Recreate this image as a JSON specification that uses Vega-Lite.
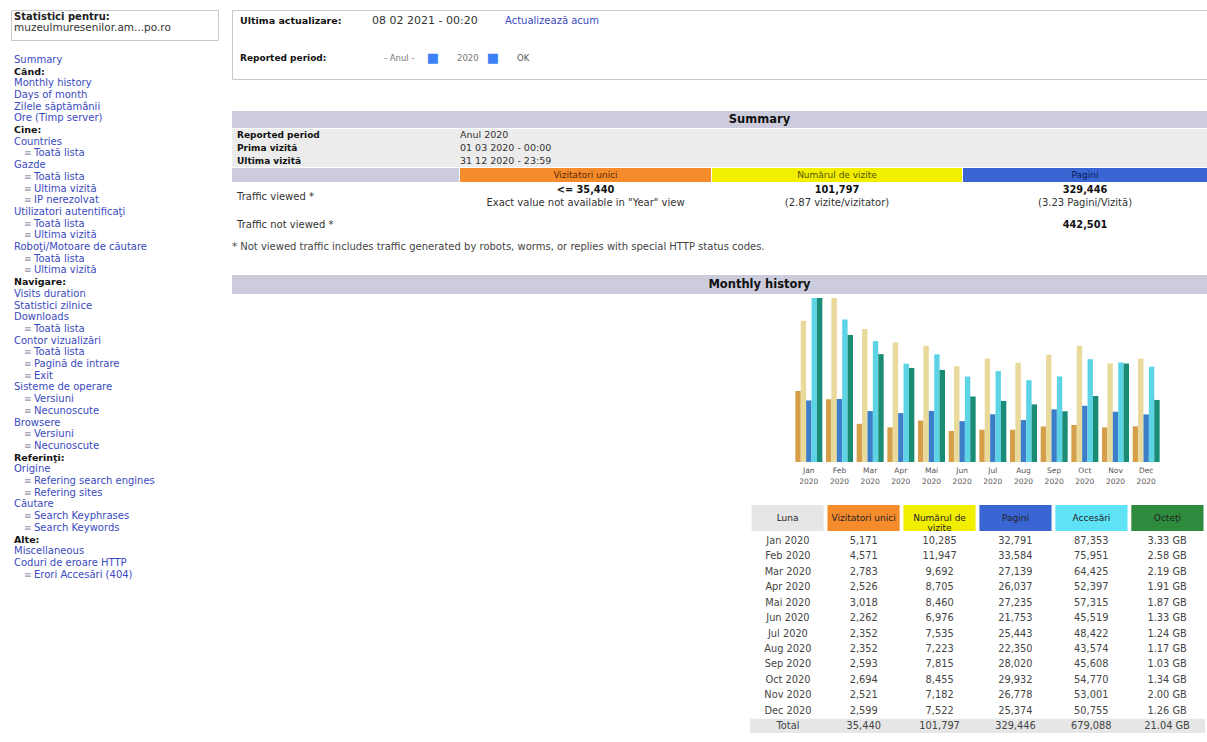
{
  "$schema": "https://vega.github.io/schema/vega-lite/v6.json",
  "background": "white",
  "padding": {"left": 10, "top": 9, "right": 0, "bottom": 0},
  "config": {
    "view": {"stroke": null},
    "font": "DejaVu Sans",
    "text": {"font": "DejaVu Sans", "fontSize": 9, "fill": "#222"}
  },
  "datasets": {
    "months": [
      {"luna": "Jan 2020", "vu": 5171, "vis": 10285, "pag": 32791, "acc": 87353, "gb": 3.33, "oct": "3.33 GB"},
      {"luna": "Feb 2020", "vu": 4571, "vis": 11947, "pag": 33584, "acc": 75951, "gb": 2.58, "oct": "2.58 GB"},
      {"luna": "Mar 2020", "vu": 2783, "vis": 9692, "pag": 27139, "acc": 64425, "gb": 2.19, "oct": "2.19 GB"},
      {"luna": "Apr 2020", "vu": 2526, "vis": 8705, "pag": 26037, "acc": 52397, "gb": 1.91, "oct": "1.91 GB"},
      {"luna": "Mai 2020", "vu": 3018, "vis": 8460, "pag": 27235, "acc": 57315, "gb": 1.87, "oct": "1.87 GB"},
      {"luna": "Jun 2020", "vu": 2262, "vis": 6976, "pag": 21753, "acc": 45519, "gb": 1.33, "oct": "1.33 GB"},
      {"luna": "Jul 2020", "vu": 2352, "vis": 7535, "pag": 25443, "acc": 48422, "gb": 1.24, "oct": "1.24 GB"},
      {"luna": "Aug 2020", "vu": 2352, "vis": 7223, "pag": 22350, "acc": 43574, "gb": 1.17, "oct": "1.17 GB"},
      {"luna": "Sep 2020", "vu": 2593, "vis": 7815, "pag": 28020, "acc": 45608, "gb": 1.03, "oct": "1.03 GB"},
      {"luna": "Oct 2020", "vu": 2694, "vis": 8455, "pag": 29932, "acc": 54770, "gb": 1.34, "oct": "1.34 GB"},
      {"luna": "Nov 2020", "vu": 2521, "vis": 7182, "pag": 26778, "acc": 53001, "gb": 2.00, "oct": "2.00 GB"},
      {"luna": "Dec 2020", "vu": 2599, "vis": 7522, "pag": 25374, "acc": 50755, "gb": 1.26, "oct": "1.26 GB"},
      {"luna": "Total", "vu": 35440, "vis": 101797, "pag": 329446, "acc": 679088, "gb": 21.04, "oct": "21.04 GB"}
    ],
    "sidebar": [
      {"i": 0, "t": "Summary", "k": "l"},
      {"i": 1, "t": "Când:", "k": "h"},
      {"i": 2, "t": "Monthly history", "k": "l"},
      {"i": 3, "t": "Days of month", "k": "l"},
      {"i": 4, "t": "Zilele săptămânii", "k": "l"},
      {"i": 5, "t": "Ore (Timp server)", "k": "l"},
      {"i": 6, "t": "Cine:", "k": "h"},
      {"i": 7, "t": "Countries", "k": "l"},
      {"i": 8, "t": "Toată lista", "k": "s"},
      {"i": 9, "t": "Gazde", "k": "l"},
      {"i": 10, "t": "Toată lista", "k": "s"},
      {"i": 11, "t": "Ultima vizită", "k": "s"},
      {"i": 12, "t": "IP nerezolvat", "k": "s"},
      {"i": 13, "t": "Utilizatori autentificaţi", "k": "l"},
      {"i": 14, "t": "Toată lista", "k": "s"},
      {"i": 15, "t": "Ultima vizită", "k": "s"},
      {"i": 16, "t": "Roboţi/Motoare de căutare", "k": "l"},
      {"i": 17, "t": "Toată lista", "k": "s"},
      {"i": 18, "t": "Ultima vizită", "k": "s"},
      {"i": 19, "t": "Navigare:", "k": "h"},
      {"i": 20, "t": "Visits duration", "k": "l"},
      {"i": 21, "t": "Statistici zilnice", "k": "l"},
      {"i": 22, "t": "Downloads", "k": "l"},
      {"i": 23, "t": "Toată lista", "k": "s"},
      {"i": 24, "t": "Contor vizualizări", "k": "l"},
      {"i": 25, "t": "Toată lista", "k": "s"},
      {"i": 26, "t": "Pagină de intrare", "k": "s"},
      {"i": 27, "t": "Exit", "k": "s"},
      {"i": 28, "t": "Sisteme de operare", "k": "l"},
      {"i": 29, "t": "Versiuni", "k": "s"},
      {"i": 30, "t": "Necunoscute", "k": "s"},
      {"i": 31, "t": "Browsere", "k": "l"},
      {"i": 32, "t": "Versiuni", "k": "s"},
      {"i": 33, "t": "Necunoscute", "k": "s"},
      {"i": 34, "t": "Referinţi:", "k": "h"},
      {"i": 35, "t": "Origine", "k": "l"},
      {"i": 36, "t": "Refering search engines", "k": "s"},
      {"i": 37, "t": "Refering sites", "k": "s"},
      {"i": 38, "t": "Căutare", "k": "l"},
      {"i": 39, "t": "Search Keyphrases", "k": "s"},
      {"i": 40, "t": "Search Keywords", "k": "s"},
      {"i": 41, "t": "Alte:", "k": "h"},
      {"i": 42, "t": "Miscellaneous", "k": "l"},
      {"i": 43, "t": "Coduri de eroare HTTP", "k": "l"},
      {"i": 44, "t": "Erori Accesări (404)", "k": "s"}
    ]
  },
  "spacing": 12,
  "hconcat": [
    {
      "spacing": 13,
      "vconcat": [
        {
          "width": 207, "height": 30,
          "view": {"stroke": "#C8C8C8"},
          "data": {"values": [{"i": 0, "t": "Statistici pentru:"}, {"i": 1, "t": "muzeulmuresenilor.am...po.ro"}]},
          "encoding": {
            "x": {"datum": 0, "type": "quantitative", "scale": {"domain": [0, 1]}, "axis": null},
            "y": {"field": "i", "type": "ordinal", "scale": {"domain": [0, 1, 2], "paddingInner": 0, "paddingOuter": 0}, "axis": null},
            "text": {"field": "t"}
          },
          "layer": [
            {"transform": [{"filter": "datum.i == 0"}], "mark": {"type": "text", "align": "left", "dx": 3, "dy": 2, "fontWeight": "bold", "fontSize": 10}},
            {"transform": [{"filter": "datum.i == 1"}], "mark": {"type": "text", "align": "left", "dx": 3, "dy": 3, "fontSize": 10.5, "fill": "#333"}}
          ]
        },
        {
          "width": 207, "height": 526.5,
          "data": {"name": "sidebar"},
          "encoding": {
            "x": {"datum": 0, "type": "quantitative", "scale": {"domain": [0, 1]}, "axis": null},
            "y": {"field": "i", "type": "ordinal", "scale": {"paddingInner": 0, "paddingOuter": 0}, "axis": null}
          },
          "layer": [
            {"transform": [{"filter": "datum.k == 'h'"}], "mark": {"type": "text", "align": "left", "dx": 3, "fontWeight": "bold", "fontSize": 9.5, "fill": "#111"}, "encoding": {"text": {"field": "t"}}},
            {"transform": [{"filter": "datum.k == 'l'"}], "mark": {"type": "text", "align": "left", "dx": 3, "fontSize": 10, "fill": "#3A4AC0"}, "encoding": {"text": {"field": "t"}}},
            {"transform": [{"filter": "datum.k == 's'"}], "mark": {"type": "text", "align": "left", "dx": 13, "fill": "#9A9AB0", "fontSize": 9}, "encoding": {"text": {"value": "≡"}}},
            {"transform": [{"filter": "datum.k == 's'"}], "mark": {"type": "text", "align": "left", "dx": 23, "fontSize": 10, "fill": "#3A4AC0"}, "encoding": {"text": {"field": "t"}}}
          ]
        }
      ]
    },
    {
      "spacing": 31,
      "vconcat": [
        {
          "width": 975, "height": 69,
          "view": {"stroke": "#C8C8C8"},
          "encoding": {
            "x": {"datum": 0, "type": "quantitative", "scale": {"domain": [0, 1]}, "axis": null},
            "y": {"field": "r", "type": "nominal", "scale": {"type": "point", "domain": ["r1", "r2"], "padding": 0.34}, "axis": null},
            "text": {"field": "t"}
          },
          "layer": [
            {"data": {"values": [{"r": "r1", "t": "Ultima actualizare:"}]}, "mark": {"type": "text", "align": "left", "dx": 8, "dy": -3, "fontWeight": "bold", "fontSize": 9.5, "fill": "#111"}},
            {"data": {"values": [{"r": "r2", "t": "Reported period:"}]}, "mark": {"type": "text", "align": "left", "dx": 8, "dy": -7, "fontWeight": "bold", "fontSize": 9, "fill": "#111"}},
            {"data": {"values": [{"r": "r1", "t": "08 02 2021 - 00:20"}]}, "mark": {"type": "text", "align": "left", "dx": 140, "dy": -3, "fontSize": 11, "fill": "#333"}},
            {"data": {"values": [{"r": "r1", "t": "Actualizează acum"}]}, "mark": {"type": "text", "align": "left", "dx": 273, "dy": -3, "fill": "#3A4AC0", "fontSize": 10}},
            {"data": {"values": [{"r": "r2", "t": "- Anul -"}]}, "mark": {"type": "text", "align": "left", "dx": 152, "dy": -7, "fill": "#777", "fontSize": 8.5}},
            {"data": {"values": [{"r": "r2", "t": "2020"}]}, "mark": {"type": "text", "align": "left", "dx": 225, "dy": -7, "fill": "#777", "fontSize": 8.5}},
            {"data": {"values": [{"r": "r2", "t": "OK"}]}, "mark": {"type": "text", "align": "left", "dx": 285, "dy": -7, "fill": "#555", "fontSize": 8.5}},
            {"data": {"values": [{"r": "r2", "t": "■"}]}, "mark": {"type": "text", "align": "center", "dx": 201, "dy": -7, "fill": "#3B82F6", "fontSize": 13}},
            {"data": {"values": [{"r": "r2", "t": "■"}]}, "mark": {"type": "text", "align": "center", "dx": 261, "dy": -7, "fill": "#3B82F6", "fontSize": 13}}
          ]
        },
        {
          "spacing": 20,
          "vconcat": [
            {
              "spacing": 1,
              "vconcat": [
                {
                  "width": 975, "height": 17,
                  "view": {"fill": "#CCCCDD"},
                  "data": {"values": [{"t": "Summary"}]},
                  "mark": {"type": "text", "fontWeight": "bold", "fontSize": 11.5, "dx": 40, "fill": "#111"},
                  "encoding": {"text": {"field": "t"}}
                },
                {
                  "width": 975, "height": 38,
                  "view": {"fill": "#ECECEC"},
                  "data": {"values": [
                    {"i": 0, "a": "Reported period", "b": "Anul 2020"},
                    {"i": 1, "a": "Prima vizită", "b": "01 03 2020 - 00:00"},
                    {"i": 2, "a": "Ultima vizită", "b": "31 12 2020 - 23:59"}
                  ]},
                  "encoding": {
                    "x": {"datum": 0, "type": "quantitative", "scale": {"domain": [0, 1]}, "axis": null},
                    "y": {"field": "i", "type": "ordinal", "scale": {"paddingInner": 0, "paddingOuter": 0}, "axis": null}
                  },
                  "layer": [
                    {"mark": {"type": "text", "align": "left", "dx": 5, "fontWeight": "bold", "fill": "#111"}, "encoding": {"text": {"field": "a"}}},
                    {"mark": {"type": "text", "align": "left", "dx": 228, "fontSize": 9.5, "fill": "#333"}, "encoding": {"text": {"field": "b"}}}
                  ]
                },
                {
                  "spacing": 1,
                  "hconcat": [
                    {"width": 227, "height": 14, "view": {"fill": "#CCCCDD"}, "data": {"values": [{"t": ""}]}, "mark": {"type": "text"}, "encoding": {"text": {"field": "t"}}},
                    {"width": 251, "height": 14, "view": {"fill": "#F68B2C"}, "data": {"values": [{"t": "Vizitatori unici"}]}, "mark": {"type": "text", "fontSize": 9, "fill": "#5A2A00"}, "encoding": {"text": {"field": "t"}}},
                    {"width": 250, "height": 14, "view": {"fill": "#F2EE00"}, "data": {"values": [{"t": "Numărul de vizite"}]}, "mark": {"type": "text", "fontSize": 9, "fill": "#555500"}, "encoding": {"text": {"field": "t"}}},
                    {"width": 244, "height": 14, "view": {"fill": "#3A66D4"}, "data": {"values": [{"t": "Pagini"}]}, "mark": {"type": "text", "fontSize": 9, "fill": "#0A1A55"}, "encoding": {"text": {"field": "t"}}}
                  ]
                },
                {
                  "spacing": 1,
                  "hconcat": [
                    {"width": 227, "height": 27, "data": {"values": [{"t": "Traffic viewed *"}]}, "mark": {"type": "text", "align": "left", "dx": 5, "fontSize": 10, "fill": "#333"}, "encoding": {"x": {"datum": 0, "type": "quantitative", "scale": {"domain": [0, 1]}, "axis": null}, "text": {"field": "t"}}},
                    {
                      "width": 251, "height": 27,
                      "data": {"values": [{"i": 0, "t": "<= 35,440"}, {"i": 1, "t": "Exact value not available in \"Year\" view"}]},
                      "encoding": {"y": {"field": "i", "type": "ordinal", "scale": {"paddingInner": 0, "paddingOuter": 0}, "axis": null}, "text": {"field": "t"}},
                      "layer": [
                        {"transform": [{"filter": "datum.i == 0"}], "mark": {"type": "text", "fontWeight": "bold", "fontSize": 9.8, "fill": "#111"}},
                        {"transform": [{"filter": "datum.i == 1"}], "mark": {"type": "text", "fontSize": 10, "fill": "#333"}}
                      ]
                    },
                    {
                      "width": 250, "height": 27,
                      "data": {"values": [{"i": 0, "t": "101,797"}, {"i": 1, "t": "(2.87 vizite/vizitator)"}]},
                      "encoding": {"y": {"field": "i", "type": "ordinal", "scale": {"paddingInner": 0, "paddingOuter": 0}, "axis": null}, "text": {"field": "t"}},
                      "layer": [
                        {"transform": [{"filter": "datum.i == 0"}], "mark": {"type": "text", "fontWeight": "bold", "fontSize": 9.8, "fill": "#111"}},
                        {"transform": [{"filter": "datum.i == 1"}], "mark": {"type": "text", "fontSize": 10, "fill": "#333"}}
                      ]
                    },
                    {
                      "width": 244, "height": 27,
                      "data": {"values": [{"i": 0, "t": "329,446"}, {"i": 1, "t": "(3.23 Pagini/Vizită)"}]},
                      "encoding": {"y": {"field": "i", "type": "ordinal", "scale": {"paddingInner": 0, "paddingOuter": 0}, "axis": null}, "text": {"field": "t"}},
                      "layer": [
                        {"transform": [{"filter": "datum.i == 0"}], "mark": {"type": "text", "fontWeight": "bold", "fontSize": 9.8, "fill": "#111"}},
                        {"transform": [{"filter": "datum.i == 1"}], "mark": {"type": "text", "fontSize": 10, "fill": "#333"}}
                      ]
                    }
                  ]
                },
                {
                  "spacing": 1,
                  "hconcat": [
                    {"width": 227, "height": 27, "data": {"values": [{"t": "Traffic not viewed *"}]}, "mark": {"type": "text", "align": "left", "dx": 5, "fontSize": 10, "fill": "#333"}, "encoding": {"x": {"datum": 0, "type": "quantitative", "scale": {"domain": [0, 1]}, "axis": null}, "text": {"field": "t"}}},
                    {"width": 251, "height": 27, "data": {"values": [{"t": ""}]}, "mark": {"type": "text"}, "encoding": {"text": {"field": "t"}}},
                    {"width": 250, "height": 27, "data": {"values": [{"t": ""}]}, "mark": {"type": "text"}, "encoding": {"text": {"field": "t"}}},
                    {"width": 244, "height": 27, "data": {"values": [{"t": "442,501"}]}, "mark": {"type": "text", "fontWeight": "bold", "fontSize": 9.8, "fill": "#111"}, "encoding": {"text": {"field": "t"}}}
                  ]
                },
                {
                  "width": 975, "height": 16,
                  "data": {"values": [{"t": "* Not viewed traffic includes traffic generated by robots, worms, or replies with special HTTP status codes."}]},
                  "mark": {"type": "text", "align": "left", "fontSize": 10, "fill": "#444"},
                  "encoding": {"x": {"datum": 0, "type": "quantitative", "scale": {"domain": [0, 1]}, "axis": null}, "text": {"field": "t"}}
                }
              ]
            },
            {
              "spacing": 4,
              "vconcat": [
                {
                  "width": 975, "height": 19,
                  "view": {"fill": "#CCCCDD"},
                  "data": {"values": [{"t": "Monthly history"}]},
                  "mark": {"type": "text", "fontWeight": "bold", "fontSize": 11.5, "dx": 40, "fill": "#111"},
                  "encoding": {"text": {"field": "t"}}
                },
                {
                  "spacing": 0,
                  "hconcat": [
                    {"width": 518, "height": 10, "data": {"values": [{"t": ""}]}, "mark": {"type": "text"}, "encoding": {"text": {"field": "t"}}},
                    {
                      "spacing": 20,
                      "center": true,
                      "vconcat": [
                        {
                          "width": 368, "height": 164,
                          "data": {"name": "months"},
                          "transform": [
                            {"filter": "datum.luna != 'Total'"},
                            {"fold": ["vu", "vis", "pag", "acc", "gb"], "as": ["metric", "value"]}
                          ],
                          "encoding": {
                            "x": {
                              "field": "luna", "type": "nominal", "sort": null,
                              "scale": {"paddingInner": 0.12, "paddingOuter": 0.06},
                              "axis": {"title": null, "labelAngle": 0, "labelExpr": "split(datum.label, ' ')", "ticks": false, "domain": false, "labelFont": "DejaVu Sans", "labelFontSize": 7.5, "labelColor": "#555", "labelPadding": 4, "labelLineHeight": 11}
                            },
                            "xOffset": {"field": "metric", "type": "nominal", "scale": {"domain": ["vu", "vis", "pag", "acc", "gb"], "paddingInner": 0, "paddingOuter": 0}},
                            "color": {"field": "metric", "type": "nominal", "scale": {"domain": ["vu", "vis", "pag", "acc", "gb"], "range": ["#D6A04A", "#E9D99A", "#3C7FC8", "#5CD4E6", "#1A8C76"]}, "legend": null}
                          },
                          "layer": [
                            {"transform": [{"filter": "datum.metric == 'vu' || datum.metric == 'vis'"}], "mark": "bar", "encoding": {"y": {"field": "value", "type": "quantitative", "scale": {"nice": false, "zero": true}, "axis": null}}},
                            {"transform": [{"filter": "datum.metric == 'pag' || datum.metric == 'acc'"}], "mark": "bar", "encoding": {"y": {"field": "value", "type": "quantitative", "scale": {"nice": false, "zero": true}, "axis": null}}},
                            {"transform": [{"filter": "datum.metric == 'gb'"}], "mark": "bar", "encoding": {"y": {"field": "value", "type": "quantitative", "scale": {"nice": false, "zero": true}, "axis": null}}}
                          ],
                          "resolve": {"scale": {"y": "independent"}}
                        },
                        {
                          "spacing": 1,
                          "vconcat": [
                            {
                              "width": 455, "height": 26,
                              "data": {"values": [
                                {"c": "Luna", "t": "Luna"},
                                {"c": "Vizitatori unici", "t": "Vizitatori unici"},
                                {"c": "Numărul de vizite", "t": "Numărul de\nvizite"},
                                {"c": "Pagini", "t": "Pagini"},
                                {"c": "Accesări", "t": "Accesări"},
                                {"c": "Octeţi", "t": "Octeţi"}
                              ]},
                              "encoding": {
                                "x": {"field": "c", "type": "nominal", "sort": null, "scale": {"domain": ["Luna", "Vizitatori unici", "Numărul de vizite", "Pagini", "Accesări", "Octeţi"], "paddingInner": 0.05, "paddingOuter": 0.02}, "axis": null}
                              },
                              "layer": [
                                {"mark": {"type": "rect"}, "encoding": {"fill": {"field": "c", "type": "nominal", "scale": {"domain": ["Luna", "Vizitatori unici", "Numărul de vizite", "Pagini", "Accesări", "Octeţi"], "range": ["#E6E6E6", "#F68B2C", "#F2EE00", "#3A66D4", "#5EE3F6", "#2E8B3E"]}, "legend": null}}},
                                {"mark": {"type": "text", "fontSize": 9, "lineBreak": "\n", "lineHeight": 10, "fill": "#222"}, "encoding": {"text": {"field": "t"}}}
                              ]
                            },
                            {
                              "width": 455, "height": 199,
                              "data": {"name": "months"},
                              "encoding": {
                                "y": {"field": "luna", "type": "nominal", "sort": null, "scale": {"domain": ["Jan 2020", "Feb 2020", "Mar 2020", "Apr 2020", "Mai 2020", "Jun 2020", "Jul 2020", "Aug 2020", "Sep 2020", "Oct 2020", "Nov 2020", "Dec 2020", "Total"], "paddingInner": 0.08, "paddingOuter": 0}, "axis": null}
                              },
                              "layer": [
                                {"transform": [{"filter": "datum.luna == 'Total'"}], "mark": {"type": "rect", "fill": "#E6E6E6"}},
                                {"mark": {"type": "text", "fontSize": 9.8, "fill": "#444"}, "encoding": {"x": {"datum": "Luna", "type": "nominal", "scale": {"domain": ["Luna", "Vizitatori unici", "Numărul de vizite", "Pagini", "Accesări", "Octeţi"], "paddingInner": 0.05, "paddingOuter": 0.02}, "axis": null}, "text": {"field": "luna"}}},
                                {"mark": {"type": "text", "fontSize": 9.8, "fill": "#444"}, "encoding": {"x": {"datum": "Vizitatori unici", "type": "nominal"}, "text": {"field": "vu", "format": ","}}},
                                {"mark": {"type": "text", "fontSize": 9.8, "fill": "#444"}, "encoding": {"x": {"datum": "Numărul de vizite", "type": "nominal"}, "text": {"field": "vis", "format": ","}}},
                                {"mark": {"type": "text", "fontSize": 9.8, "fill": "#444"}, "encoding": {"x": {"datum": "Pagini", "type": "nominal"}, "text": {"field": "pag", "format": ","}}},
                                {"mark": {"type": "text", "fontSize": 9.8, "fill": "#444"}, "encoding": {"x": {"datum": "Accesări", "type": "nominal"}, "text": {"field": "acc", "format": ","}}},
                                {"mark": {"type": "text", "fontSize": 9.8, "fill": "#444"}, "encoding": {"x": {"datum": "Octeţi", "type": "nominal"}, "text": {"field": "oct"}}}
                              ]
                            }
                          ]
                        }
                      ]
                    }
                  ]
                }
              ]
            }
          ]
        }
      ]
    }
  ]
}
